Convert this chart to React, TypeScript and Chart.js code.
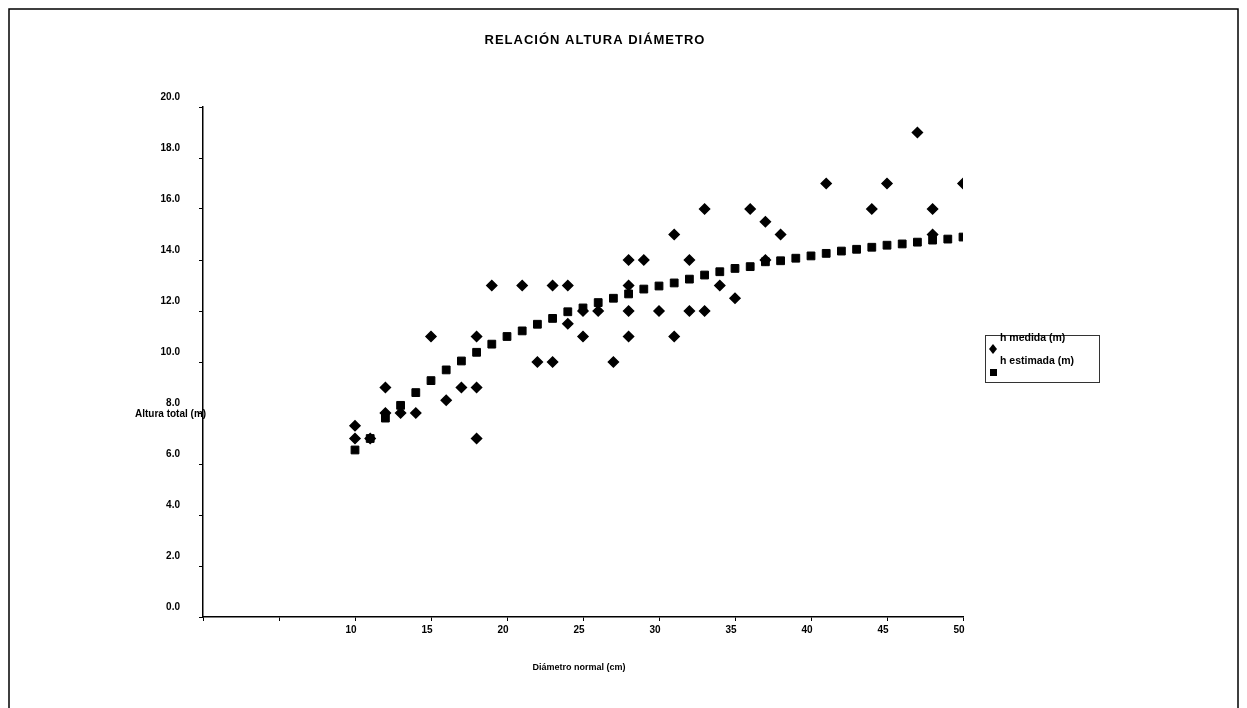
import React, { useEffect, useRef } from 'react';
import { Chart, registerables } from 'chart.js';

Chart.register(...registerables);

const chartTitle = 'RELACIÓN ALTURA DIÁMETRO';
const xAxisTitle = 'Diámetro normal (cm)';
const yAxisTitle = 'Altura total (m)';
const seriesNames = ['h medida (m)', 'h estimada (m)'];
const xTickLabels = ['', '', '10', '15', '20', '25', '30', '35', '40', '45', '50'];

// h medida (m): measured heights by diameter (cm)
const medidaD = [
  10, 10, 11, 12, 12, 13, 14, 15, 16, 17, 18, 18, 18, 19, 21, 22, 23, 23, 24, 24,
  25, 25, 26, 27, 28, 28, 28, 28, 29, 30, 31, 31, 32, 32, 33, 33, 34, 35, 36, 37,
  37, 38, 41, 44, 45, 47, 48, 48, 50,
];
const medidaH = [
  7.5, 7.0, 7.0, 9.0, 8.0, 8.0, 8.0, 11.0, 8.5, 9.0, 11.0, 9.0, 7.0, 13.0, 13.0, 10.0, 13.0, 10.0, 13.0, 11.5,
  12.0, 11.0, 12.0, 10.0, 14.0, 13.0, 12.0, 11.0, 14.0, 12.0, 15.0, 11.0, 14.0, 12.0, 16.0, 12.0, 13.0, 12.5, 16.0, 15.5,
  14.0, 15.0, 17.0, 16.0, 17.0, 19.0, 16.0, 15.0, 17.0,
];

// h estimada (m): fitted heights by diameter (cm)
const estimadaD = [
  10, 11, 12, 13, 14, 15, 16, 17, 18, 19, 20, 21, 22, 23, 24, 25, 26, 27, 28, 29,
  30, 31, 32, 33, 34, 35, 36, 37, 38, 39, 40, 41, 42, 43, 44, 45, 46, 47, 48, 49, 50,
];
const estimadaH = [
  6.55, 7.0, 7.8, 8.3, 8.8, 9.27, 9.69, 10.04, 10.38, 10.7, 11.0, 11.22, 11.48, 11.71, 11.97, 12.12, 12.33, 12.5, 12.67, 12.86,
  12.98, 13.1, 13.25, 13.41, 13.54, 13.67, 13.74, 13.93, 13.97, 14.07, 14.16, 14.26, 14.35, 14.42, 14.5, 14.58, 14.63, 14.7, 14.78, 14.82, 14.9,
];

const FONT = '"Liberation Sans", Arial, sans-serif';

const decorPlugin = {
  id: 'decor',
  afterDraw(chart: any) {
    const ctx = chart.ctx as CanvasRenderingContext2D;
    ctx.save();
    // frame
    ctx.strokeStyle = '#000';
    ctx.lineWidth = 1.5;
    ctx.beginPath();
    ctx.moveTo(9, 720);
    ctx.lineTo(9, 9);
    ctx.lineTo(1238, 9);
    ctx.lineTo(1238, 720);
    ctx.stroke();

    ctx.fillStyle = '#000';
    ctx.textBaseline = 'middle';
    // title
    ctx.font = `bold 13px ${FONT}`;
    (ctx as any).letterSpacing = '1px';
    ctx.textAlign = 'center';
    ctx.fillText(chartTitle, 595, 40);
    (ctx as any).letterSpacing = '0px';
    // x-axis title
    ctx.font = `bold 9px ${FONT}`;
    ctx.fillText(xAxisTitle, 579, 668);
    // y-axis title
    ctx.font = `bold 10px ${FONT}`;
    ctx.textAlign = 'left';
    ctx.fillText(yAxisTitle, 135, 414);

    // legend
    ctx.lineWidth = 1;
    ctx.strokeStyle = '#333';
    ctx.strokeRect(985.5, 335.5, 114, 47);
    ctx.font = `bold 10.5px ${FONT}`;
    ctx.fillStyle = '#000';
    ctx.fillText(seriesNames[0], 1000, 338);
    ctx.fillText(seriesNames[1], 1000, 361);
    // diamond marker
    ctx.beginPath();
    ctx.moveTo(993, 344);
    ctx.lineTo(997, 349);
    ctx.lineTo(993, 354);
    ctx.lineTo(989, 349);
    ctx.closePath();
    ctx.fill();
    // square marker
    ctx.fillRect(990, 369, 7, 7);
    ctx.restore();
  },
};

export default function App() {
  const ref = useRef<HTMLCanvasElement | null>(null);

  useEffect(() => {
    if (!ref.current) return;
    const chart = new Chart(ref.current, {
      type: 'scatter',
      data: {
        datasets: [
          {
            label: seriesNames[0],
            data: medidaD.map((d, i) => ({ x: d, y: medidaH[i] })),
            pointStyle: 'rectRot',
            pointRadius: 5,
            backgroundColor: '#000',
            borderColor: '#000',
            borderWidth: 1.5,
          },
          {
            label: seriesNames[1],
            data: estimadaD.map((d, i) => ({ x: d, y: estimadaH[i] })),
            pointStyle: 'rect',
            pointRadius: 5.5,
            backgroundColor: '#000',
            borderColor: '#000',
            borderWidth: 1,
          },
        ],
      },
      options: {
        animation: false,
        responsive: false,
        devicePixelRatio: 1,
        layout: { padding: { top: 107, right: 284, left: 0, bottom: 0 } },
        plugins: {
          legend: { display: false },
          title: { display: false },
          tooltip: { enabled: false },
        },
        scales: {
          x: {
            type: 'linear',
            min: 0,
            max: 50,
            afterFit(scale: any) {
              scale.height = 91;
            },
            ticks: {
              stepSize: 5,
              color: '#000',
              font: { family: FONT, size: 10, weight: 'bold' },
              padding: 3,
              labelOffset: -4,
              maxRotation: 0,
              autoSkip: false,
              callback: (v: any) => xTickLabels[Math.round(Number(v) / 5)] ?? '',
            },
            grid: {
              display: true,
              drawOnChartArea: false,
              drawTicks: true,
              tickLength: 4,
              color: '#000',
            },
            border: { display: true, color: '#000', width: 1.5 },
          },
          y: {
            type: 'linear',
            min: 0,
            max: 20,
            afterFit(scale: any) {
              scale.width = 203;
            },
            ticks: {
              stepSize: 2,
              color: '#000',
              font: { family: FONT, size: 10, weight: 'bold' },
              padding: 19,
              labelOffset: -10,
              callback: (v: any) => Number(v).toFixed(1),
            },
            grid: {
              display: true,
              drawOnChartArea: false,
              drawTicks: true,
              tickLength: 4,
              color: '#000',
            },
            border: { display: true, color: '#000', width: 1.5 },
          },
        },
      },
      plugins: [decorPlugin],
    });
    return () => chart.destroy();
  }, []);

  return (
    <div style={{ position: 'fixed', left: 0, top: 0, width: 1247, height: 708, background: '#fff' }}>
      <canvas ref={ref} width={1247} height={708} style={{ display: 'block' }} />
    </div>
  );
}
